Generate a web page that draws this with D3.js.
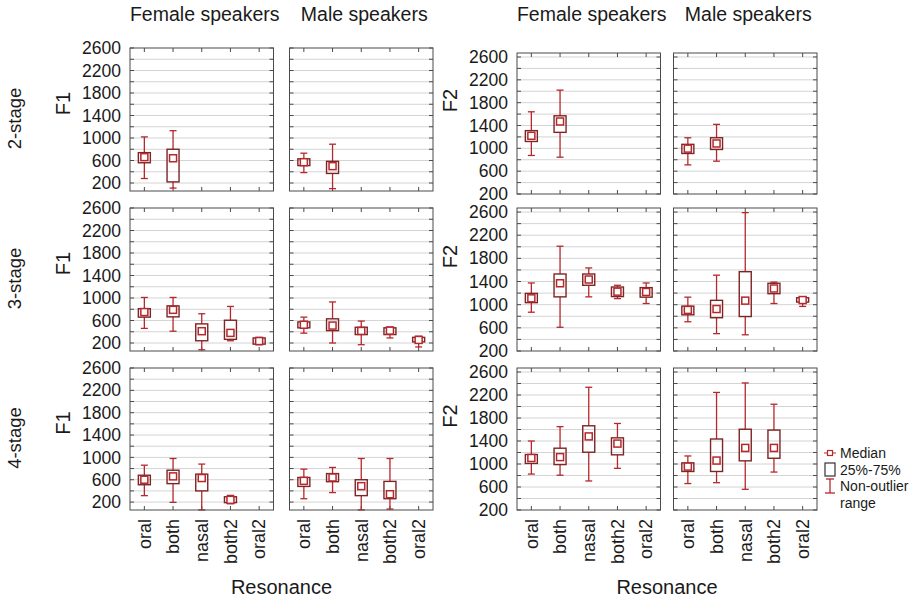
<!DOCTYPE html>
<html lang="en">
  <head>
    <style>
      body { margin: 0; background: #fff; }
      text { font-family: "Liberation Sans", Arial, sans-serif; fill: #1a1a1a; }
      .grid line { stroke: #d4d4d4; }
      .frame { fill: none; stroke: #4a4a4a; }
    </style>
  </head>
  <body>
    <svg id="container" width="912" height="600"></svg>
  </body>
  <script src="https://d3js.org/d3.v7.min.js"></script>
  <script>
// each entry: [lower whisker, 25%, median, 75%, upper whisker], null = no data
const categories = ["oral", "both", "nasal", "both2", "oral2"]
const stages = ["2-stage", "3-stage", "4-stage"]
const speakers = ["Female speakers", "Male speakers"]
const yTicks = [200, 600, 1000, 1400, 1800, 2200, 2600]

const f1Female2 = [[280, 560, 660, 740, 1020], [110, 220, 640, 800, 1130], null, null, null]
const f1Male2 = [[385, 510, 570, 630, 730], [100, 370, 500, 585, 890], null, null, null]
const f1Female3 = [[460, 660, 750, 810, 1010], [410, 665, 790, 860, 1010], [80, 240, 410, 540, 720], [240, 265, 380, 605, 850], [170, 180, 235, 290, 300]]
const f1Male3 = [[375, 470, 525, 575, 660], [200, 420, 510, 630, 930], [170, 350, 415, 480, 590], [290, 350, 420, 470, 485], [130, 220, 255, 300, 320]]
const f1Female4 = [[315, 510, 600, 680, 860], [195, 530, 660, 770, 980], [60, 400, 630, 700, 880], [170, 190, 240, 295, 320], null]
const f1Male4 = [[260, 480, 580, 640, 790], [370, 565, 640, 710, 820], [60, 315, 485, 600, 980], [75, 260, 340, 570, 980], null]

const f2Female2 = [[875, 1120, 1220, 1310, 1640], [845, 1280, 1470, 1570, 2020], null, null, null]
const f2Male2 = [[710, 910, 995, 1070, 1185], [775, 980, 1085, 1185, 1420], null, null, null]
const f2Female3 = [[870, 1035, 1110, 1195, 1375], [610, 1135, 1370, 1530, 2010], [1135, 1335, 1435, 1530, 1635], [1105, 1140, 1225, 1305, 1335], [1020, 1130, 1220, 1295, 1375]]
const f2Male3 = [[705, 825, 910, 975, 1130], [500, 775, 925, 1075, 1510], [480, 795, 1070, 1570, 2590], [1020, 1190, 1280, 1370, 1390], [970, 1045, 1080, 1120, 1130]]
const f2Female4 = [[825, 1010, 1105, 1165, 1400], [805, 990, 1120, 1275, 1650], [705, 1205, 1480, 1665, 2335], [925, 1160, 1355, 1455, 1705], null]
const f2Male4 = [[660, 870, 955, 1020, 1140], [675, 870, 1060, 1435, 2245], [560, 1055, 1280, 1605, 2410], [860, 1100, 1280, 1590, 2040], null]

const formants = [
    { name: "F1", domain: [58, 2600], cols: [130, 289.5], tops: [48, 208, 368], heights: [143, 143, 142],
      panels: [[f1Female2, f1Male2], [f1Female3, f1Male3], [f1Female4, f1Male4]], labelShift: -16 },
    { name: "F2", domain: [200, 2670], cols: [517, 673.5], tops: [53, 208, 368], heights: [141, 143, 142],
      panels: [[f2Female2, f2Male2], [f2Female3, f2Male3], [f2Female4, f2Male4]], labelShift: -23 }
]

const panelW = 143.5
const boxColor = "#7d2424"
const whiskerColor = "#b5282c"
let svg = d3.select("#container")

function drawPanel(g, data, y, w, h) {
    let x = d3.scaleBand().domain(categories).range([0, w])
    let minor = d3.range(200, 2601, 200)

    g.append("g").attr("class", "grid")
        .selectAll("line").data(minor.filter(v => y(v) > 0.5 && y(v) < h - 0.5)).enter()
        .append("line")
            .attr("x1", 0).attr("x2", w)
            .attr("y1", d => y(d)).attr("y2", d => y(d))

    // inside ticks on all four sides
    let tk = g.append("g").attr("stroke", "#4a4a4a")
    minor.filter(v => y(v) >= 0 && y(v) <= h).forEach(v => {
        tk.append("line").attr("x1", 0).attr("x2", 4).attr("y1", y(v)).attr("y2", y(v))
        tk.append("line").attr("x1", w - 4).attr("x2", w).attr("y1", y(v)).attr("y2", y(v))
    })
    categories.forEach(c => {
        let cx = x(c) + x.bandwidth() / 2
        tk.append("line").attr("x1", cx).attr("x2", cx).attr("y1", 0).attr("y2", 4)
        tk.append("line").attr("x1", cx).attr("x2", cx).attr("y1", h - 4).attr("y2", h)
    })

    let boxes = data.map((d, i) => ({ cat: categories[i], v: d })).filter(d => d.v)
    let b = g.selectAll(".box").data(boxes).enter().append("g")
        .attr("class", "box")
        .attr("transform", d => `translate(${x(d.cat) + x.bandwidth() / 2},0)`)

    b.append("line").attr("stroke", whiskerColor).attr("stroke-width", 1.3)
        .attr("x1", 0).attr("x2", 0).attr("y1", d => y(d.v[0])).attr("y2", d => y(d.v[1]))
    b.append("line").attr("stroke", whiskerColor).attr("stroke-width", 1.3)
        .attr("x1", 0).attr("x2", 0).attr("y1", d => y(d.v[3])).attr("y2", d => y(d.v[4]))
    b.append("line").attr("stroke", whiskerColor).attr("stroke-width", 1.3)
        .attr("x1", -3.5).attr("x2", 3.5).attr("y1", d => y(d.v[0])).attr("y2", d => y(d.v[0]))
    b.append("line").attr("stroke", whiskerColor).attr("stroke-width", 1.3)
        .attr("x1", -3.5).attr("x2", 3.5).attr("y1", d => y(d.v[4])).attr("y2", d => y(d.v[4]))

    b.append("rect")
        .attr("x", -6).attr("width", 12)
        .attr("y", d => y(d.v[3]))
        .attr("height", d => Math.max(1, y(d.v[1]) - y(d.v[3])))
        .attr("fill", "none").attr("stroke", boxColor).attr("stroke-width", 1.4)

    b.append("rect")
        .attr("x", -3.5).attr("width", 7)
        .attr("y", d => y(d.v[2]) - 3.5).attr("height", 7)
        .attr("fill", "#fff").attr("stroke", whiskerColor).attr("stroke-width", 1.5)

    g.append("rect").attr("class", "frame").attr("width", w).attr("height", h)
    return x
}

formants.forEach(f => {
    f.tops.forEach((top, r) => {
        let h = f.heights[r]
        let y = d3.scaleLinear().domain(f.domain).range([h, 0])

        let axis = svg.append("g").attr("transform", `translate(${f.cols[0] - 9},${top})`)
        axis.selectAll("text").data(yTicks).enter().append("text")
            .attr("y", d => y(d)).attr("dy", "0.35em")
            .attr("text-anchor", "end").attr("font-size", 17.5)
            .text(d => d)

        svg.append("text")
            .attr("transform", `translate(${f.cols[0] - 60},${top + h / 2 + f.labelShift}) rotate(-90)`)
            .attr("text-anchor", "middle").attr("font-size", 20)
            .text(f.name)

        f.cols.forEach((left, c) => {
            let g = svg.append("g").attr("transform", `translate(${left},${top})`)
            let x = drawPanel(g, f.panels[r][c], y, panelW, h)

            if (r === 2) {
                g.selectAll(".xl").data(categories).enter().append("text")
                    .attr("transform", d => `translate(${x(d) + x.bandwidth() / 2},${h + 9}) rotate(-90)`)
                    .attr("dy", "0.35em").attr("text-anchor", "end").attr("font-size", 18)
                    .text(d => d)
            }
            if (r === 0) {
                svg.append("text")
                    .attr("x", left + panelW / 2 + 3).attr("y", 21)
                    .attr("text-anchor", "middle").attr("font-size", 19.5)
                    .text(speakers[c])
            }
        })
    })

    svg.append("text")
        .attr("x", (f.cols[0] + f.cols[1] + panelW) / 2).attr("y", 594)
        .attr("text-anchor", "middle").attr("font-size", 20)
        .text("Resonance")
})

stages.forEach((s, r) => {
    let top = formants[0].tops[r], h = formants[0].heights[r]
    svg.append("text")
        .attr("transform", `translate(21,${top + h / 2 - 1}) rotate(-90)`)
        .attr("text-anchor", "middle").attr("font-size", 18.5)
        .text(s)
})

// legend
let lg = svg.append("g").attr("transform", "translate(824,453)")
lg.append("line").attr("x1", 0).attr("x2", 12).attr("y1", 0).attr("y2", 0)
    .attr("stroke", whiskerColor).attr("stroke-width", 1)
lg.append("rect").attr("x", 3.5).attr("y", -2.5).attr("width", 5).attr("height", 5)
    .attr("fill", "#fff").attr("stroke", whiskerColor).attr("stroke-width", 1.2)
lg.append("rect").attr("x", 1).attr("y", 10).attr("width", 10).attr("height", 13)
    .attr("fill", "none").attr("stroke", "#333").attr("stroke-width", 1.2)
lg.append("line").attr("x1", 6).attr("x2", 6).attr("y1", 26).attr("y2", 40)
    .attr("stroke", whiskerColor).attr("stroke-width", 1.3)
lg.append("line").attr("x1", 2).attr("x2", 10).attr("y1", 26).attr("y2", 26)
    .attr("stroke", whiskerColor).attr("stroke-width", 1.3)
lg.append("line").attr("x1", 1).attr("x2", 11).attr("y1", 40).attr("y2", 40)
    .attr("stroke", whiskerColor).attr("stroke-width", 1.3)

let legendText = [["Median", 0], ["25%-75%", 17], ["Non-outlier", 33], ["range", 50]]
lg.selectAll(".lt").data(legendText).enter().append("text")
    .attr("x", 16).attr("y", d => d[1]).attr("dy", "0.35em")
    .attr("font-size", 14)
    .text(d => d[0])
  </script>
</html>
